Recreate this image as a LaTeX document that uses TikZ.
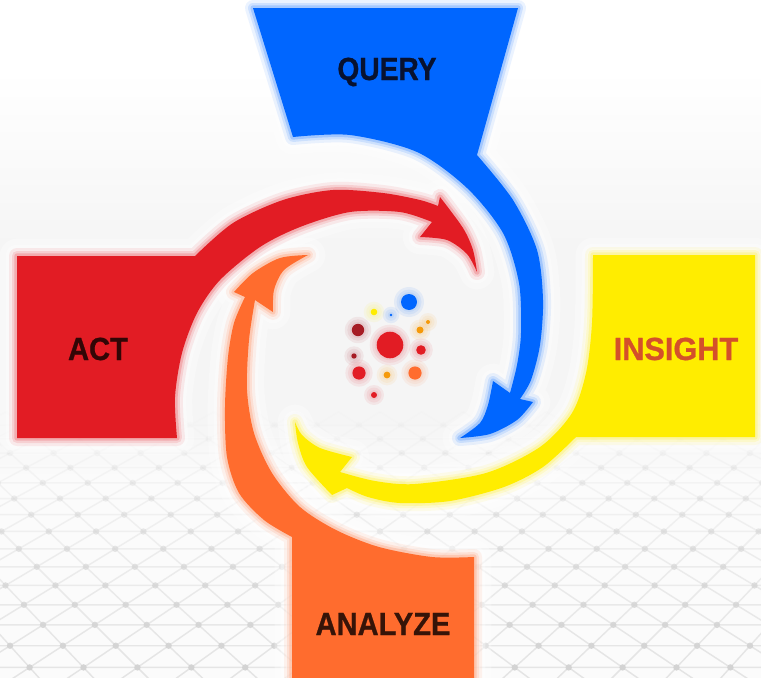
\documentclass[tikz,border=0pt]{standalone}
\usepackage{fontspec}
\setmainfont{Liberation Sans}[BoldFeatures={FakeBold=0.9}]
\definecolor{qblue}{HTML}{0066FF}
\definecolor{ared}{HTML}{E21C24}
\definecolor{iyellow}{HTML}{FFED00}
\definecolor{zorange}{HTML}{FF6C2E}
\definecolor{dred}{HTML}{A61C24}
\definecolor{dorange}{HTML}{F59A0A}
\definecolor{meshline}{HTML}{E4E4E4}
\definecolor{meshdot}{HTML}{D2D2D2}
\definecolor{qtext}{HTML}{081230}
\definecolor{atext}{HTML}{320606}
\definecolor{itext}{HTML}{D4502A}
\definecolor{ztext}{HTML}{361408}
\tikzset{
  halo1/.style={draw=white, line width=26pt, line join=round, opacity=0.3},
  halo2/.style={draw=white, line width=17pt, line join=round, opacity=0.35},
  halo3/.style={draw=white, line width=9pt, line join=round, opacity=0.4},
  glowa/.style={draw=#1, line width=12pt, line join=round, opacity=0.08},
  glowb/.style={draw=#1, line width=7.5pt, line join=round, opacity=0.12},
  glowc/.style={draw=#1, line width=4pt, line join=round, opacity=0.2},
  lbl/.style={anchor=base, inner sep=0pt, font=\fontsize{24}{24}\selectfont\bfseries},
  dotglow/.style={fill=#1, opacity=0.07},
}
\def\pathQ{(253,8) -- (518,8) -- (477,155)
  -- plot[smooth] coordinates {(477,155) (513,200) (537,250) (543,300) (540,345) (531,380) (520,399)}
  -- (533,402)
  -- plot[smooth] coordinates {(533,402) (517,420) (490,434) (460,438)}
  -- plot[smooth] coordinates {(460,438) (480,423) (488,405) (493,381)}
  -- (510,393)
  -- plot[smooth] coordinates {(510,393) (517,365) (521,333) (519,283) (503,233) (467,188) (417,152) (350,135) (293,137)}
  -- cycle}
\def\pathA{(17,256) -- (195,256)
  -- plot[smooth] coordinates {(195,256) (233,223) (283,200) (333,190) (383,193) (420,200) (438,206)}
  -- (440,197)
  -- plot[smooth] coordinates {(440,197) (463,228) (473,250) (477,272)}
  -- plot[smooth] coordinates {(477,272) (467,254) (447,240) (420,237)}
  -- (432,222)
  -- plot[smooth] coordinates {(432,222) (400,212) (350,212) (300,227) (260,247) (220,280) (197,313) (182,353) (175,397) (177,438)}
  -- (17,438) -- cycle}
\def\pathI{(593,255) -- (755,255) -- (755,437) -- (576,437)
  -- plot[smooth] coordinates {(576,437) (543,467) (504,487) (450,501) (400,503) (368,497) (347,488)}
  -- (332,495)
  -- plot[smooth] coordinates {(332,495) (307,467) (298,443) (295,422)}
  -- plot[smooth] coordinates {(295,422) (302,435) (320,448) (352,457)}
  -- (340,472)
  -- plot[smooth] coordinates {(340,472) (375,481) (415,484) (486,473) (540,447) (572,413) (586,373) (592,323) (593,255)}
  -- cycle}
\def\pathZ{(292,678) -- (292,537)
  -- plot[smooth] coordinates {(292,537) (264,520) (239,493) (227,457) (225,407) (228,357) (234,323) (245,297)}
  -- (234,292)
  -- plot[smooth] coordinates {(234,292) (253,273) (280,258) (308,255)}
  -- plot[smooth] coordinates {(308,255) (284,270) (274,290) (273,312)}
  -- (255,300)
  -- plot[smooth] coordinates {(255,300) (249,340) (247,390) (254,433) (272,473) (300,507) (336,530) (379,547) (432,557) (474,557)}
  -- (474,678) -- cycle}
\begin{document}
\begin{tikzpicture}[x=0.75pt,y=-0.75pt]
\useasboundingbox (0,0) rectangle (761,678);
% background
\fill[white] (0,0) rectangle (761,678);
\shade[top color=white, bottom color=gray!8] (0,70) rectangle (761,250);
\fill[gray!8] (0,250) rectangle (761,420);
\shade[top color=gray!8, bottom color=white!97!gray] (0,420) rectangle (761,480);
\fill[white!97!gray] (0,480) rectangle (761,678);
% mesh
\foreach \s in {0,...,15}{
  \pgfmathsetmacro\Z{1+0.0203*\s}
  \pgfmathsetmacro\Zn{1+0.0203*(\s+1)}
  \pgfmathsetmacro\yy{-445+1135/\Z}
  \pgfmathsetmacro\yn{-445+1135/\Zn}
  \pgfmathsetmacro\op{max(0.05,1-\s/16)}
  \pgfmathtruncatemacro\N{2*ceil(7.5*\Z)+mod(\s,2)}
  \pgfmathtruncatemacro\Na{-\N}
  \pgfmathtruncatemacro\Nb{-\N+2}
  \foreach \d in {\Na,\Nb,...,\N}{
    \pgfmathsetmacro\xx{380+27.5*\d/\Z}
    \pgfmathsetmacro\xa{380+27.5*(\d+1)/\Zn}
    \pgfmathsetmacro\xb{380+27.5*(\d-1)/\Zn}
    \pgfmathsetmacro\xc{380+27.5*(\d+2)/\Z}
    \draw[meshline,line width=1.1pt,opacity=\op] (\xa,\yn) -- (\xx,\yy) -- (\xb,\yn) (\xx,\yy) -- (\xc,\yy);
    \fill[meshdot,opacity=\op] (\xx,\yy) circle[radius=3.2];
  }
}
% soft white halos
\foreach \h in {halo1,halo2,halo3}{
  \path[\h] \pathQ;
  \path[\h] \pathA;
  \path[\h] \pathI;
  \path[\h] \pathZ;
}
% coloured glows
\foreach \g in {glowa,glowb,glowc}{
  \path[\g=qblue] \pathQ;
  \path[\g=ared] \pathA;
  \path[\g=iyellow] \pathI;
  \path[\g=zorange] \pathZ;
}
% shapes
\fill[qblue] \pathQ;
\fill[ared] \pathA;
\fill[iyellow] \pathI;
\fill[zorange] \pathZ;
% central dots
\foreach \x/\y/\r/\c in {409/302/8/qblue, 374/312/3.3/iyellow, 391/315/1.3/qblue,
  358/330/6.2/dred, 420/330/3.5/dorange, 428/322/2/dorange, 390/345/13.3/ared,
  421/350/4.8/ared, 354/356/2.7/dred, 359/373/6.6/ared, 387/375/3.4/dorange,
  415/373/6.6/zorange, 374/395/3/ared}{
  \fill[dotglow=\c] (\x,\y) circle[radius=\r+7];
  \fill[dotglow=\c] (\x,\y) circle[radius=\r+4.5];
  \fill[dotglow=\c] (\x,\y) circle[radius=\r+2];
  \fill[\c] (\x,\y) circle[radius=\r];
}
% labels
\node[lbl, text=qtext] (query) at (387,80) {\scalebox{0.88}[1]{QUERY}};
\node[lbl, text=atext] (act) at (98,360) {\scalebox{0.91}[1]{ACT}};
\node[lbl, text=itext] (insight) at (676,360) {\scalebox{0.96}[1]{INSIGHT}};
\node[lbl, text=ztext] (analyze) at (383,635) {\scalebox{0.91}[1]{ANALYZE}};
\end{tikzpicture}
\end{document}
